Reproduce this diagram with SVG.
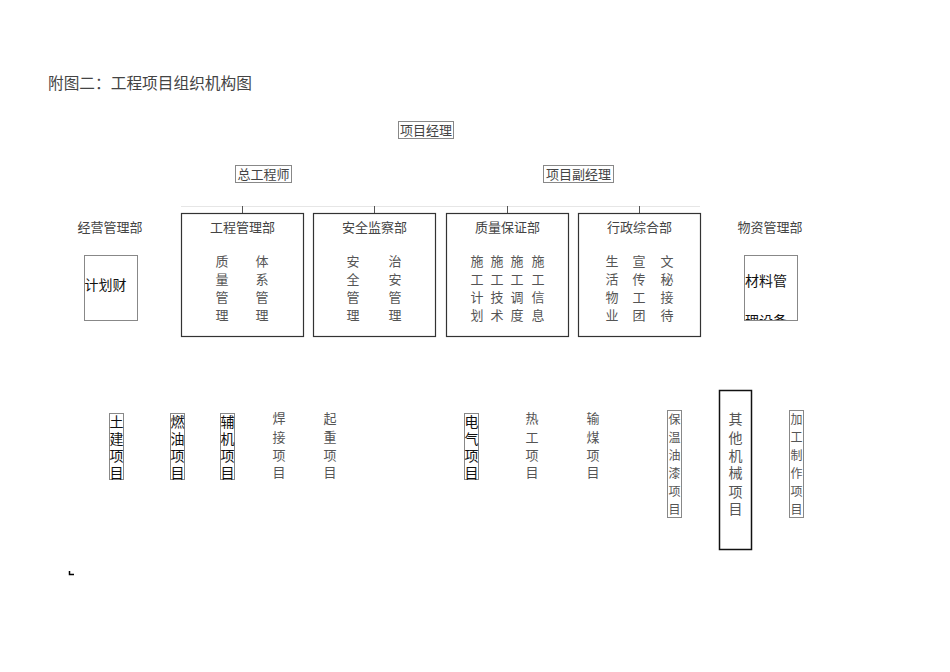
<svg xmlns="http://www.w3.org/2000/svg" width="950" height="672" viewBox="0 0 950 672">
<style>
text{font-family:"Liberation Serif","Noto Sans CJK SC",serif;}
.t{font-size:15.7px;fill:#444;}
.h{font-size:13px;fill:#444;text-anchor:middle;}
.g{font-size:13px;fill:#555;text-anchor:middle;}
.k{font-family:"Liberation Sans","Noto Sans CJK SC",sans-serif;font-size:14px;fill:#111;text-anchor:middle;}
.s{font-size:12px;fill:#555;text-anchor:middle;}
.bx{fill:#fff;stroke:#333;stroke-width:1.2;}
.lb{fill:#fff;stroke:#888;stroke-width:1;}
.ln{stroke:#555;stroke-width:1;fill:none;}
</style>
<defs><clipPath id="c1"><rect x="744" y="255" width="53" height="65"/></clipPath></defs>
<rect width="950" height="672" fill="#fff"/>
<text class="t" x="48" y="89">附图二：工程项目组织机构图</text>

<g id="connectors">
<line x1="181" y1="206.5" x2="700" y2="206.5" stroke="#e6e6e6" stroke-width="1"/>
<line class="ln" x1="242.5" y1="206" x2="242.5" y2="214"/>
<line class="ln" x1="374.5" y1="206" x2="374.5" y2="214"/>
<line class="ln" x1="507.5" y1="206" x2="507.5" y2="214"/>
<line class="ln" x1="639.5" y1="206" x2="639.5" y2="214"/>
<path d="M69.5 571 V574.5 H74" stroke="#000" stroke-width="1.5" fill="none"/>
</g>

<g id="pm"><rect class="lb" x="398.5" y="121.5" width="55" height="17"/><text class="h" x="426" y="135">项目经理</text></g>
<g id="chief"><rect class="lb" x="235.5" y="165.5" width="56" height="17"/><text class="h" x="263.5" y="179">总工程师</text></g>
<g id="vpm"><rect class="lb" x="543.5" y="165.5" width="70" height="17"/><text class="h" x="578.5" y="179">项目副经理</text></g>

<g id="jy"><text class="h" x="110" y="232">经营管理部</text>
<rect class="lb" x="84.5" y="255.5" width="53" height="65"/>
<text class="k" x="105.5" y="290">计划财</text></g>

<g id="gc"><rect class="bx" x="181.5" y="213.5" width="122" height="123"/>
<text class="h" x="242.5" y="232">工程管理部</text>
<text class="g" x="222" y="266">质<tspan x="222" dy="18">量</tspan><tspan x="222" dy="18">管</tspan><tspan x="222" dy="18">理</tspan></text>
<text class="g" x="262" y="266">体<tspan x="262" dy="18">系</tspan><tspan x="262" dy="18">管</tspan><tspan x="262" dy="18">理</tspan></text></g>

<g id="aq"><rect class="bx" x="313.5" y="213.5" width="122" height="123"/>
<text class="h" x="374.5" y="232">安全监察部</text>
<text class="g" x="353" y="266">安<tspan x="353" dy="18">全</tspan><tspan x="353" dy="18">管</tspan><tspan x="353" dy="18">理</tspan></text>
<text class="g" x="395" y="266">治<tspan x="395" dy="18">安</tspan><tspan x="395" dy="18">管</tspan><tspan x="395" dy="18">理</tspan></text></g>

<g id="zl"><rect class="bx" x="446.5" y="213.5" width="122" height="123"/>
<text class="h" x="507.5" y="232">质量保证部</text>
<text class="g" x="477" y="266">施<tspan x="477" dy="18">工</tspan><tspan x="477" dy="18">计</tspan><tspan x="477" dy="18">划</tspan></text>
<text class="g" x="497" y="266">施<tspan x="497" dy="18">工</tspan><tspan x="497" dy="18">技</tspan><tspan x="497" dy="18">术</tspan></text>
<text class="g" x="517" y="266">施<tspan x="517" dy="18">工</tspan><tspan x="517" dy="18">调</tspan><tspan x="517" dy="18">度</tspan></text>
<text class="g" x="538" y="266">施<tspan x="538" dy="18">工</tspan><tspan x="538" dy="18">信</tspan><tspan x="538" dy="18">息</tspan></text></g>

<g id="xz"><rect class="bx" x="578.5" y="213.5" width="122" height="123"/>
<text class="h" x="639.5" y="232">行政综合部</text>
<text class="g" x="612" y="266">生<tspan x="612" dy="18">活</tspan><tspan x="612" dy="18">物</tspan><tspan x="612" dy="18">业</tspan></text>
<text class="g" x="639" y="266">宣<tspan x="639" dy="18">传</tspan><tspan x="639" dy="18">工</tspan><tspan x="639" dy="18">团</tspan></text>
<text class="g" x="667" y="266">文<tspan x="667" dy="18">秘</tspan><tspan x="667" dy="18">接</tspan><tspan x="667" dy="18">待</tspan></text></g>

<g id="wz"><text class="h" x="770" y="232">物资管理部</text>
<rect class="lb" x="744.5" y="255.5" width="53" height="65"/>
<g clip-path="url(#c1)"><text class="k" x="766" y="286">材料管<tspan x="766" dy="40">理设备</tspan></text></g></g>

<g id="tj"><rect class="lb" x="109.5" y="413.5" width="14" height="66"/>
<text class="k" x="116.5" y="427">土<tspan x="116.5" dy="17">建</tspan><tspan x="116.5" dy="17">项</tspan><tspan x="116.5" dy="17">目</tspan></text></g>
<g id="ry"><rect class="lb" x="170.5" y="413.5" width="14" height="66"/>
<text class="k" x="177.5" y="427">燃<tspan x="177.5" dy="17">油</tspan><tspan x="177.5" dy="17">项</tspan><tspan x="177.5" dy="17">目</tspan></text></g>
<g id="fj"><rect class="lb" x="220.5" y="413.5" width="14" height="66"/>
<text class="k" x="227.5" y="427">辅<tspan x="227.5" dy="17">机</tspan><tspan x="227.5" dy="17">项</tspan><tspan x="227.5" dy="17">目</tspan></text></g>
<g id="hj"><text class="g" x="279" y="423">焊<tspan x="279" dy="19">接</tspan><tspan x="279" dy="18">项</tspan><tspan x="279" dy="17">目</tspan></text></g>
<g id="qz"><text class="g" x="330" y="423">起<tspan x="330" dy="19">重</tspan><tspan x="330" dy="18">项</tspan><tspan x="330" dy="17">目</tspan></text></g>
<g id="dq"><rect class="lb" x="464.5" y="413.5" width="14" height="66"/>
<text class="k" x="471.5" y="427">电<tspan x="471.5" dy="17">气</tspan><tspan x="471.5" dy="17">项</tspan><tspan x="471.5" dy="17">目</tspan></text></g>
<g id="rg"><text class="g" x="532" y="423">热<tspan x="532" dy="19">工</tspan><tspan x="532" dy="18">项</tspan><tspan x="532" dy="17">目</tspan></text></g>
<g id="sm"><text class="g" x="593" y="423">输<tspan x="593" dy="19">煤</tspan><tspan x="593" dy="18">项</tspan><tspan x="593" dy="17">目</tspan></text></g>
<g id="bw"><rect class="lb" x="667.5" y="410.5" width="14" height="107"/>
<text class="s" x="674.5" y="424">保<tspan x="674.5" dy="18">温</tspan><tspan x="674.5" dy="18">油</tspan><tspan x="674.5" dy="18">漆</tspan><tspan x="674.5" dy="18">项</tspan><tspan x="674.5" dy="18">目</tspan></text></g>
<g id="qt"><rect x="719.5" y="390.5" width="32" height="159" fill="#fff" stroke="#111" stroke-width="1.5"/>
<text class="g" x="735.5" y="424" style="font-size:14px">其<tspan x="735.5" dy="19">他</tspan><tspan x="735.5" dy="18">机</tspan><tspan x="735.5" dy="17">械</tspan><tspan x="735.5" dy="19">项</tspan><tspan x="735.5" dy="17">目</tspan></text></g>
<g id="jg"><rect class="lb" x="789.5" y="410.5" width="14" height="107"/>
<text class="s" x="796.5" y="424">加<tspan x="796.5" dy="18">工</tspan><tspan x="796.5" dy="18">制</tspan><tspan x="796.5" dy="18">作</tspan><tspan x="796.5" dy="18">项</tspan><tspan x="796.5" dy="18">目</tspan></text></g>
</svg>
